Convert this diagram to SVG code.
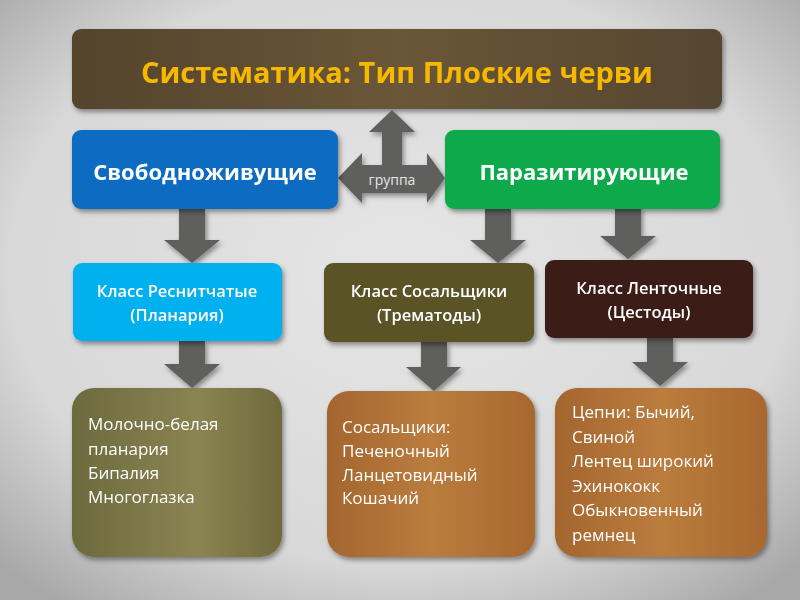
<svg xmlns="http://www.w3.org/2000/svg" width="800" height="600" viewBox="0 0 800 600">
<defs>
<radialGradient id="bg" cx="50%" cy="45%" r="70%">
<stop offset="0" stop-color="#e6e6e6"/><stop offset="0.7" stop-color="#d8d8d8"/><stop offset="1" stop-color="#a8a8a8"/>
</radialGradient>
<linearGradient id="gTitle" x1="0" y1="0" x2="1" y2="0">
<stop offset="0" stop-color="#54442c"/><stop offset="0.5" stop-color="#6a5638"/><stop offset="1" stop-color="#564630"/>
</linearGradient>
<linearGradient id="gOlive" x1="0" y1="0" x2="1" y2="0">
<stop offset="0" stop-color="#6c6a3e"/><stop offset="0.6" stop-color="#8a8452"/><stop offset="1" stop-color="#706a3c"/>
</linearGradient>
<linearGradient id="gOrange" x1="0" y1="0" x2="1" y2="0">
<stop offset="0" stop-color="#a3662e"/><stop offset="0.5" stop-color="#bb7c3e"/><stop offset="1" stop-color="#a8682e"/>
</linearGradient>
<filter id="sh" x="-10%" y="-10%" width="125%" height="130%">
<feDropShadow dx="2" dy="3" stdDeviation="2.5" flood-color="#000" flood-opacity="0.4"/>
</filter>
<style>
.t{font-family:"Open Sans","Noto Sans","Liberation Sans",sans-serif;fill:#fff;text-anchor:middle}
.b{font-weight:bold}
.c{font-size:16.5px;font-weight:600}
.l{font-family:"Open Sans","Noto Sans","Liberation Sans",sans-serif;fill:#fff;font-size:17px}
.arr{fill:#5f5f5d;filter:url(#sh)}
</style>
</defs>
<rect width="800" height="600" fill="url(#bg)"/>

<g id="title" filter="url(#sh)">
<rect x="72" y="29" width="650" height="80" rx="9" fill="url(#gTitle)"/>
<text x="397" y="83" class="t b" style="fill:#f7b800;font-size:28px" textLength="512" lengthAdjust="spacingAndGlyphs">Систематика: Тип Плоские черви</text>
</g>

<g id="connectors">
<path class="arr" d="M392,110 L415,132 L402,132 L402,165 L427,165 L427,153 L445,178 L427,203 L427,193 L362,193 L362,203 L338,178 L362,153 L362,165 L382,165 L382,132 L369,132 Z"/>
<text x="392" y="185" class="t" style="fill:#e6e6e6;font-size:14px">группа</text>
<path class="arr" d="M179,209 L205,209 L205,240 L220,240 L192,263 L164,240 L179,240 Z"/>
<path class="arr" d="M485,209 L511,209 L511,240 L526,240 L498,263 L470,240 L485,240 Z"/>
<path class="arr" d="M615,207 L641,207 L641,236 L656,236 L628,259 L600,236 L615,236 Z"/>
<path class="arr" d="M179,341 L205,341 L205,364 L220,364 L192,388 L164,364 L179,364 Z"/>
<path class="arr" d="M421,342 L447,342 L447,367 L461,367 L434,391 L406,367 L421,367 Z"/>
<path class="arr" d="M647,338 L673,338 L673,362 L688,362 L660,386 L632,362 L647,362 Z"/>
</g>

<g id="free" filter="url(#sh)">
<rect x="72" y="130" width="266" height="79" rx="9" fill="#0a6cc1"/>
<text x="205" y="180" class="t b" style="font-size:22px">Свободноживущие</text>
</g>
<g id="parasite" filter="url(#sh)">
<rect x="445" y="130" width="275" height="79" rx="9" fill="#08a94c"/>
<text x="584" y="180" class="t b" style="font-size:22px">Паразитирующие</text>
</g>

<g id="cls1" filter="url(#sh)">
<rect x="73" y="263" width="209" height="78" rx="9" fill="#02b0ef"/>
<text x="177" y="297" class="t c">Класс Реснитчатые</text>
<text x="177" y="321" class="t c">(Планария)</text>
</g>
<g id="cls2" filter="url(#sh)">
<rect x="324" y="263" width="210" height="79" rx="9" fill="#5a5228"/>
<text x="429" y="297" class="t c">Класс Сосальщики</text>
<text x="429" y="321" class="t c">(Трематоды)</text>
</g>
<g id="cls3" filter="url(#sh)">
<rect x="545" y="260" width="208" height="78" rx="9" fill="#3a1d16"/>
<text x="649" y="294" class="t c">Класс Ленточные</text>
<text x="649" y="318" class="t c">(Цестоды)</text>
</g>

<g id="list1" filter="url(#sh)">
<rect x="72" y="388" width="210" height="169" rx="22" fill="url(#gOlive)"/>
<text class="l"><tspan x="88" y="430">Молочно-белая</tspan><tspan x="88" y="455">планария</tspan><tspan x="88" y="479">Бипалия</tspan><tspan x="88" y="503">Многоглазка</tspan></text>
</g>
<g id="list2" filter="url(#sh)">
<rect x="327" y="391" width="208" height="166" rx="22" fill="url(#gOrange)"/>
<text class="l"><tspan x="342" y="433">Сосальщики:</tspan><tspan x="342" y="457">Печеночный</tspan><tspan x="342" y="481">Ланцетовидный</tspan><tspan x="342" y="504">Кошачий</tspan></text>
</g>
<g id="list3" filter="url(#sh)">
<rect x="555" y="388" width="212" height="169" rx="22" fill="url(#gOrange)"/>
<text class="l"><tspan x="572" y="418">Цепни: Бычий,</tspan><tspan x="572" y="443">Свиной</tspan><tspan x="572" y="467">Лентец широкий</tspan><tspan x="572" y="492">Эхинококк</tspan><tspan x="572" y="516">Обыкновенный</tspan><tspan x="572" y="541">ремнец</tspan></text>
</g>
</svg>
